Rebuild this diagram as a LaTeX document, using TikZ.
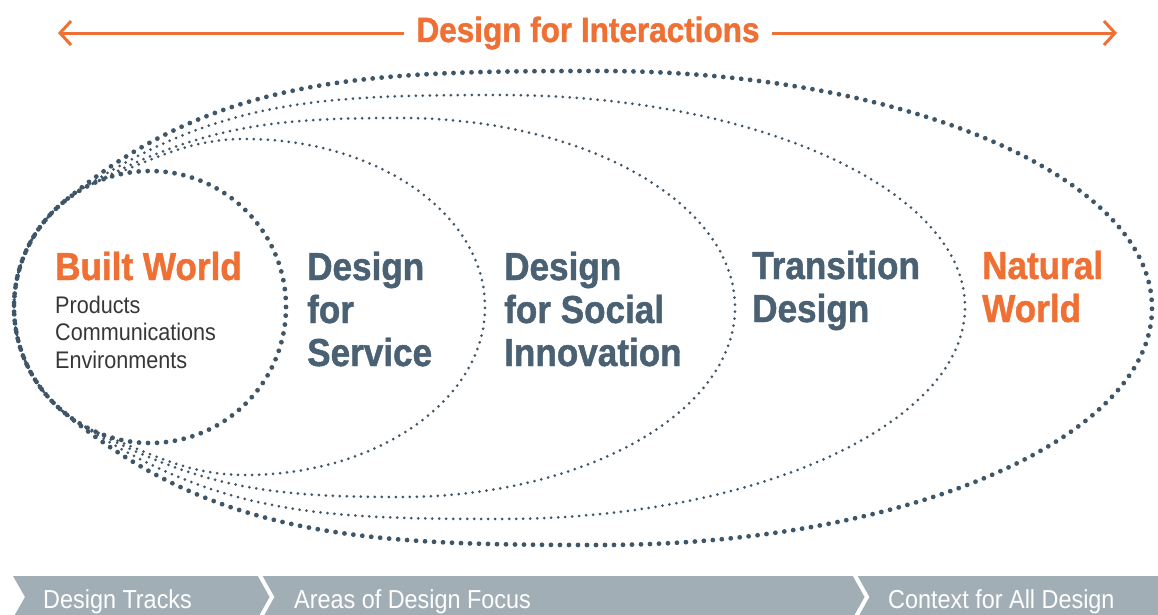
\documentclass[tikz,border=0pt]{standalone}
\usepackage{fontspec}
\setmainfont{Liberation Sans}
\newfontfamily\narrowfont[FakeStretch=0.9, BoldFeatures={FakeBold=1.2}]{Liberation Sans}
\usetikzlibrary{arrows.meta}
\definecolor{dforange}{RGB}{239,112,52}
\definecolor{dfslate}{RGB}{74,96,115}
\definecolor{dfdots}{RGB}{63,86,104}
\definecolor{dfgray}{RGB}{55,55,55}
\definecolor{dfbar}{RGB}{162,174,181}

\begin{document}
\begin{tikzpicture}[x=1pt,y=1pt,
    track/.style={font=\narrowfont\bfseries\fontsize{39}{43}\selectfont, text=dfslate, align=left, anchor=base west, inner sep=0pt},
    world/.style={track, text=dforange},
    crafts/.style={font=\narrowfont\fontsize{24}{27.5}\selectfont, text=dfgray, align=left, anchor=base west, inner sep=0pt},
    bartext/.style={font=\narrowfont\fontsize{26}{30}\selectfont, text=white, anchor=base west, inner sep=0pt},
    bigdots/.style={draw=dfdots, line width=4.8pt, dash pattern=on 0pt off 9pt, line cap=round},
    smalldots/.style={draw=dfdots, line width=3pt, dash pattern=on 0pt off 7pt, line cap=round},
    arr/.style={draw=dforange, line width=3pt, -{Straight Barb[length=11pt,width=24pt]}}]
    \useasboundingbox (0,0) rectangle (1158,614);

    \coordinate (bw)   at (150,307);
    \coordinate (arrL) at (58,582);
    \coordinate (arrR) at (1117,582);

    % bottom band
    \fill[dfbar] (13,38) -- (1158,38) -- (1158,-4) -- (13,-4) -- (25,17) -- cycle;
    \draw[white, line width=4pt] (258,42) -- (272,17) -- (258,-8);
    \draw[white, line width=4pt] (853,42) -- (867,17) -- (853,-8);

    % nested areas
    \draw[bigdots] (bw) circle[radius=136];
    \draw[smalldots] ([shift={(bw)}]112:136) arc[start angle=112, end angle=248, radius=136]
        .. controls +(-22:60) and +(180:55) .. (245,139)
        arc[start angle=-90, end angle=90, x radius=240, y radius=168]
        .. controls +(180:55) and +(22:60) .. ([shift={(bw)}]112:136);
    \draw[smalldots] ([shift={(bw)}]118:136) arc[start angle=118, end angle=242, radius=136]
        .. controls +(-28:130) and +(180:130) .. (400,117)
        arc[start angle=-90, end angle=90, x radius=335, y radius=189.5]
        .. controls +(180:130) and +(28:130) .. ([shift={(bw)}]118:136);
    \draw[smalldots] ([shift={(bw)}]124:136) arc[start angle=124, end angle=236, radius=136]
        .. controls +(-34:170) and +(180:180) .. (500,95)
        arc[start angle=-90, end angle=90, x radius=465, y radius=212]
        .. controls +(180:180) and +(34:170) .. ([shift={(bw)}]124:136);
    \draw[bigdots] ([shift={(bw)}]130:136) arc[start angle=130, end angle=230, radius=136]
        .. controls +(-40:200) and +(180:230) .. (600,69)
        arc[start angle=-90, end angle=90, x radius=552, y radius=237]
        .. controls +(180:230) and +(40:200) .. ([shift={(bw)}]130:136);

    % labels (base = last line)
    \node[world]  (built)      at (55,334)  {Built World};
    \node[crafts] (crafts)     at (55,246)  {Products\\Communications\\Environments};
    \node[track]  (service)    at (307,248) {Design\\for\\Service};
    \node[track]  (social)     at (504,248) {Design\\for Social\\Innovation};
    \node[track]  (transition) at (752,292) {Transition\\Design};
    \node[world]  (natural)    at (982,292) {Natural\\World};

    \node[font=\narrowfont\bfseries\fontsize{35}{40}\selectfont, text=dforange, anchor=base,
          inner xsep=12pt, inner ysep=0pt] (title) at (588,572) {Design for Interactions};
    \draw[arr] (title.west) -- (title.west -| arrL);
    \draw[arr] (title.east) -- (title.east -| arrR);

    \node[bartext] (tracks)  at (43,6)  {Design Tracks};
    \node[bartext] (focus)   at (294,6) {Areas of Design Focus};
    \node[bartext] (context) at (888,6) {Context for All Design};
\end{tikzpicture}
\end{document}
